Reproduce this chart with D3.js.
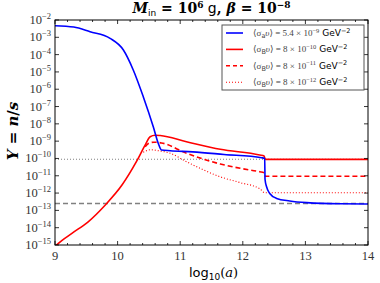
<!DOCTYPE html>
<html>
<head>
<meta charset="utf-8">
<script src="https://cdn.jsdelivr.net/npm/d3@7"></script>
<style>
  body { margin: 0; background: #fff; }
  svg text { fill: #000; }
</style>
</head>
<body>
<div id="chart"></div>
<script>
// log10(a) / Y values
var blueA = [9.0, 9.3, 9.56, 9.88, 10.09, 10.25, 10.41, 10.57, 10.65, 10.70, 10.84, 11.2, 11.7, 12.3, 12.35, 12.355, 12.38, 12.43, 12.54, 12.75, 13.02, 13.55, 14.0];
var blueY = [4.7e-3, 3.9e-3, 2.1e-3, 8.7e-4, 1.9e-4, 1.3e-5, 3.7e-7, 6.8e-9, 7.4e-10, 3.1e-10, 2.8e-10, 2.4e-10, 1.7e-10, 1.1e-10, 1.0e-10, 6.3e-12, 2.3e-12, 9.5e-13, 4.9e-13, 3.5e-13, 2.8e-13, 2.4e-13, 2.35e-13];

var redA = [9.0, 9.05, 9.27, 9.53, 9.8, 10.07, 10.3, 10.44, 10.52, 10.6, 10.68, 11.1, 11.64, 12.27, 12.34, 12.36, 14.0];
var redY = [7.9e-16, 1.2e-15, 4.7e-15, 2.2e-14, 2.0e-13, 2.9e-12, 6.5e-11, 5.9e-10, 1.8e-9, 2.2e-9, 2.1e-9, 9.3e-10, 3.4e-10, 1.6e-10, 1.4e-10, 8.9e-11, 8.9e-11];

var dashA = [10.44, 10.5, 10.58, 10.7, 11.1, 11.64, 11.96, 12.27, 12.34, 12.36, 14.0];
var dashY = [4.8e-10, 7.6e-10, 8.7e-10, 7.9e-10, 2.0e-10, 4.8e-11, 2.7e-11, 1.7e-11, 1.5e-11, 9.3e-12, 9.3e-12];

var dotA = [10.41, 10.46, 10.53, 10.65, 10.84, 11.1, 11.64, 11.96, 12.27, 12.35, 14.0];
var dotY = [2.3e-10, 2.8e-10, 3.2e-10, 2.8e-10, 2.0e-10, 6.5e-11, 8.7e-12, 4.0e-12, 1.8e-12, 1.05e-12, 1.05e-12];

var greyDotted = 9e-11;
var greyDashed = 2.5e-13;

var xTicks = [9, 10, 11, 12, 13, 14];
var yExps = [-2, -3, -4, -5, -6, -7, -8, -9, -10, -11, -12, -13, -14, -15];

var legendLabels = [
  {sub: "a", mant: "5.4 × ", exp: "−9"},
  {sub: "B", mant: "8 × ", exp: "−10"},
  {sub: "B", mant: "8 × ", exp: "−11"},
  {sub: "B", mant: "8 × ", exp: "−12"}
];

var width = 380, height = 283;
var margin = {top: 20, right: 12, bottom: 38, left: 55};
var w = width - margin.left - margin.right;
var h = height - margin.top - margin.bottom;

var svg = d3.select("#chart").append("svg")
  .attr("width", width)
  .attr("height", height)
  .append("g")
  .attr("transform", "translate(" + margin.left + "," + margin.top + ")");

var xScale = d3.scaleLinear().domain([9, 14]).range([0, w]);
var yScale = d3.scaleLog().domain([1e-15, 1e-2]).range([h, 0]);

svg.append("defs").append("clipPath").attr("id", "clip")
  .append("rect").attr("width", w).attr("height", h);

var plot = svg.append("g").attr("clip-path", "url(#clip)");

var line = d3.line()
  .x(function(d) { return xScale(d[0]); })
  .y(function(d) { return yScale(d[1]); })
  .curve(d3.curveMonotoneX);

function pairs(a, y) { return a.map(function(v, i) { return [v, y[i]]; }); }

// horizontal reference lines
plot.append("line")
  .attr("x1", 0).attr("x2", w)
  .attr("y1", yScale(greyDotted)).attr("y2", yScale(greyDotted))
  .style("stroke", "#808080").style("stroke-width", 1.1)
  .style("stroke-dasharray", "1,2");
plot.append("line")
  .attr("x1", 0).attr("x2", w)
  .attr("y1", yScale(greyDashed)).attr("y2", yScale(greyDashed))
  .style("stroke", "#808080").style("stroke-width", 1.3)
  .style("stroke-dasharray", "5,3");

var series = [
  {data: pairs(dotA, dotY), color: "#ff0000", dash: "1,2", sw: 1.1},
  {data: pairs(dashA, dashY), color: "#ff0000", dash: "5,3", sw: 1.6},
  {data: pairs(redA, redY), color: "#ff0000", dash: null, sw: 1.6},
  {data: pairs(blueA, blueY), color: "#0000ff", dash: null, sw: 1.6}
];

series.forEach(function(s) {
  plot.append("path")
    .datum(s.data)
    .attr("d", line)
    .style("fill", "none")
    .style("stroke", s.color)
    .style("stroke-width", s.sw)
    .style("stroke-dasharray", s.dash);
});

// frame
svg.append("rect")
  .attr("width", w).attr("height", h)
  .style("fill", "none").style("stroke", "#000").style("stroke-width", 1);

// x ticks (inward, top and bottom)
var minorX = d3.range(9, 14.001, 0.2);
minorX.forEach(function(v) {
  var x = xScale(v);
  var major = Math.abs(v - Math.round(v)) < 1e-6;
  var len = major ? 4 : 2;
  svg.append("line").attr("x1", x).attr("x2", x).attr("y1", h).attr("y2", h - len)
    .style("stroke", "#000").style("stroke-width", 0.8);
  svg.append("line").attr("x1", x).attr("x2", x).attr("y1", 0).attr("y2", len)
    .style("stroke", "#000").style("stroke-width", 0.8);
});
svg.selectAll(".xlab").data(xTicks).enter().append("text")
  .attr("x", function(d) { return xScale(d); })
  .attr("y", h + 15)
  .attr("text-anchor", "middle")
  .style("font-family", "Liberation Serif, DejaVu Serif, serif")
  .style("font-size", "12.5px")
  .style("fill", "#333")
  .text(function(d) { return d; });

// y ticks
yExps.forEach(function(e) {
  var y = yScale(Math.pow(10, e));
  svg.append("line").attr("x1", 0).attr("x2", 4).attr("y1", y).attr("y2", y)
    .style("stroke", "#000").style("stroke-width", 0.8);
  svg.append("line").attr("x1", w).attr("x2", w - 4).attr("y1", y).attr("y2", y)
    .style("stroke", "#000").style("stroke-width", 0.8);
  var t = svg.append("text")
    .attr("x", -4).attr("y", y + 4)
    .attr("text-anchor", "end")
    .style("font-family", "Liberation Serif, DejaVu Serif, serif")
    .style("font-size", "12.5px")
    .style("fill", "#333");
  t.append("tspan").text("10");
  t.append("tspan").attr("dy", -5).style("font-size", "8.5px").text("−" + Math.abs(e));
});

// title
var title = svg.append("text")
  .attr("x", w / 2).attr("y", -7)
  .attr("text-anchor", "middle")
  .style("font-family", "DejaVu Serif, serif")
  .style("font-size", "14px")
  .style("font-weight", "bold");
title.append("tspan").style("font-style", "italic").text("M");
title.append("tspan").attr("dy", 3).style("font-size", "9px").style("font-family", "DejaVu Sans, sans-serif").style("font-weight", "normal").text("in");
title.append("tspan").attr("dy", -3).text(" = 10");
title.append("tspan").attr("dy", -5).style("font-size", "9px").text("6");
title.append("tspan").attr("dy", 5).style("font-family", "DejaVu Sans, sans-serif").style("font-weight", "normal").text(" g");
title.append("tspan").text(", ");
title.append("tspan").style("font-style", "italic").text("β");
title.append("tspan").text(" = 10");
title.append("tspan").attr("dy", -5).style("font-size", "9px").text("−8");

// y label
var ylab = svg.append("text")
  .attr("transform", "rotate(-90)")
  .attr("x", -(131 - margin.top)).attr("y", -37)
  .attr("text-anchor", "middle")
  .style("font-family", "DejaVu Serif, serif")
  .style("font-size", "15px")
  .style("font-weight", "bold")
  .style("font-style", "italic");
ylab.append("tspan").text("Y");
ylab.append("tspan").style("font-style", "normal").text(" = ");
ylab.append("tspan").text("n");
ylab.append("tspan").style("font-style", "normal").text("/");
ylab.append("tspan").text("s");

// x label
var xlab = svg.append("text")
  .attr("x", w / 2 + 2).attr("y", h + 32)
  .attr("text-anchor", "middle")
  .style("font-family", "DejaVu Sans, sans-serif")
  .style("font-size", "13px");
xlab.append("tspan").text("log");
xlab.append("tspan").attr("dy", 3).style("font-size", "9px").text("10");
xlab.append("tspan").attr("dy", -3).style("font-family", "DejaVu Serif, serif").text("(");
xlab.append("tspan").style("font-family", "DejaVu Serif, serif").style("font-style", "italic").text("a");
xlab.append("tspan").style("font-family", "DejaVu Serif, serif").text(")");

// legend
var lg = svg.append("g").attr("transform", "translate(" + (222 - margin.left) + "," + (25 - margin.top) + ")");
lg.append("rect").attr("width", 142).attr("height", 65)
  .style("fill", "#fff").style("stroke", "#555").style("stroke-width", 1);
var legendStyles = [series[3], series[2], series[1], series[0]];
legendLabels.forEach(function(d, i) {
  var y = 8 + i * 16.4;
  var s = legendStyles[i];
  lg.append("line").attr("x1", 4).attr("x2", 21).attr("y1", y).attr("y2", y)
    .style("stroke", s.color).style("stroke-width", s.sw)
    .style("stroke-dasharray", s.dash ? (s.dash === "5,3" ? "4,3" : s.dash) : null);
  var t = lg.append("text").attr("x", 31).attr("y", y + 3)
    .style("font-family", "Liberation Serif, DejaVu Serif, serif")
    .style("font-size", "9px")
    .style("fill", "#444");
  t.append("tspan").text("⟨σ");
  t.append("tspan").attr("dy", 2).style("font-size", "6.5px").style("font-family", "DejaVu Sans, sans-serif").text(d.sub);
  t.append("tspan").attr("dy", -2).style("font-style", "italic").text("υ");
  t.append("tspan").text("⟩ = " + d.mant + "10");
  t.append("tspan").attr("dy", -3.5).style("font-size", "6.5px").text(d.exp);
  t.append("tspan").attr("dy", 3.5).style("font-family", "DejaVu Sans, sans-serif").style("fill", "#000").text(" GeV");
  t.append("tspan").attr("dy", -3.5).style("font-size", "6.5px").style("font-family", "DejaVu Sans, sans-serif").style("fill", "#000").text("−2");
});
</script>
</body>
</html>
